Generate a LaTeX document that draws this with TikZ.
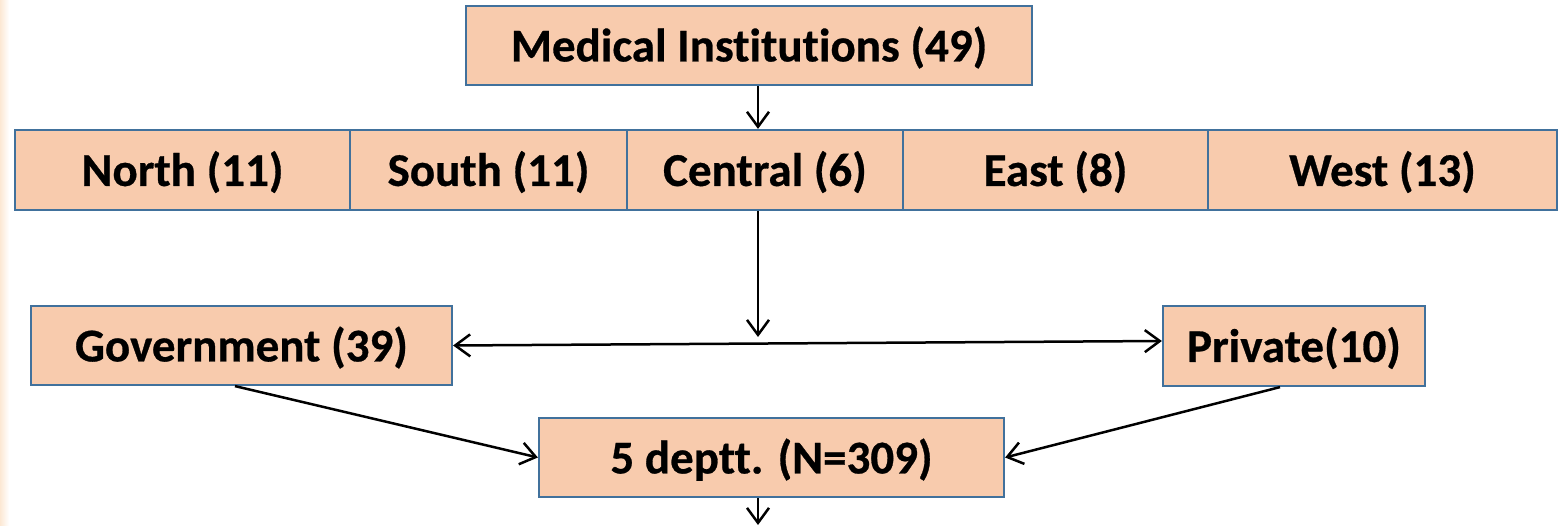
\documentclass[tikz,border=0pt]{standalone}
\usepackage{fontspec}
\setmainfont{Carlito}[Ligatures=NoCommon, RawFeature={-liga;-clig}, BoldFeatures={FakeBold=0.6}]
\usetikzlibrary{arrows.meta}
\definecolor{boxfill}{RGB}{248,203,173}
\definecolor{boxline}{RGB}{65,113,156}
\definecolor{edgetint}{RGB}{252,232,212}
\begin{document}
\begin{tikzpicture}[x=1pt,y=-1pt,
  box/.style={draw=boxline, line width=2.2pt, fill=boxfill,
    font=\fontsize{47}{50}\selectfont\bfseries, inner sep=0pt, align=center,
    text depth=3pt},
  barb/.tip={Straight Barb[length=15pt,width=22pt,line width=2.5pt]},
  conn/.style={line width=2.5pt, -barb},
  conn2/.style={line width=2.5pt, barb-barb}]
\useasboundingbox (0,0) rectangle (1565,526);
% faint tinted strip along the left edge
\shade[left color=edgetint, right color=white] (0,0) rectangle (9,526);

% top box
\node[box, minimum width=566pt, minimum height=79pt] (top) at (749,45.5) {Medical Institutions (49)};

% regional row
\node[box, minimum width=335pt, minimum height=80pt] (north) at (182.5,170) {North (11)};
\node[box, minimum width=277pt, minimum height=80pt] (south) at (488.5,170) {South (11)};
\node[box, minimum width=276pt, minimum height=80pt] (central) at (765,170) {Central (6)};
\node[box, minimum width=305pt, minimum height=80pt] (east) at (1055.5,170) {East (8)};
\node[box, minimum width=349pt, minimum height=80pt] (west) at (1382.5,170) {West (13)};

% sector boxes
\node[box, minimum width=421pt, minimum height=79pt] (gov) at (241.5,345.5) {Government (39)};
\node[box, minimum width=262pt, minimum height=80pt] (priv) at (1294,346) {Private(10)};

% departments
\node[box, minimum width=465pt, minimum height=79pt] (dept) at (771.5,457.5) {5 deptt. (N=309)};

\coordinate (mid) at (758,337);
\coordinate (bottom) at (758,525);

% connectors
\draw[conn] ([xshift=9pt]top.south) -- ([xshift=-7pt]central.north);
\draw[conn] ([xshift=-7pt]central.south) -- (mid);
\draw[conn2] (gov.east) -- ([yshift=5pt]priv.west);
\draw[conn] ([xshift=-6.5pt]gov.south) -- (dept.west);
\draw[conn] ([xshift=-14pt]priv.south) -- (dept.east);
\draw[conn] ([xshift=-13.5pt]dept.south) -- (bottom);
\end{tikzpicture}
\end{document}
